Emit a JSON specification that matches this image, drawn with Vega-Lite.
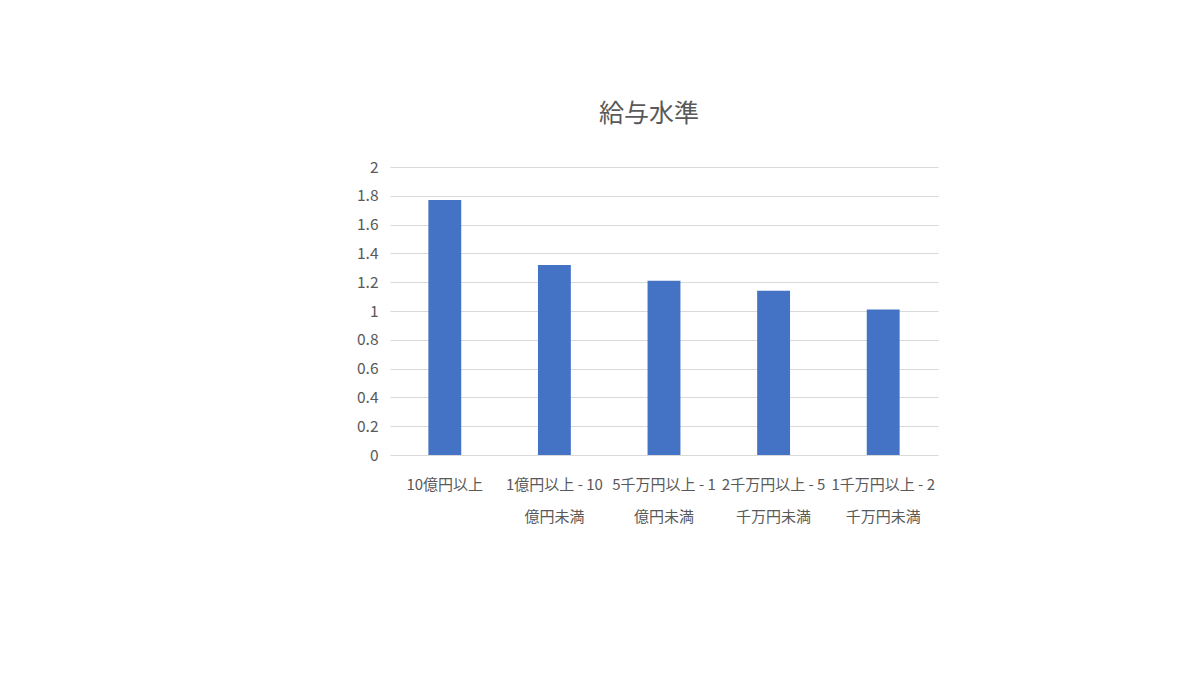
{
  "$schema": "https://vega.github.io/schema/vega-lite/v6.json",
  "autosize": "none",
  "width": 548,
  "height": 288,
  "padding": {"left": 390, "top": 167, "right": 262, "bottom": 220},
  "background": "white",
  "title": {
    "text": "給与水準",
    "fontSize": 25,
    "font": "Noto Sans CJK JP",
    "fontWeight": "normal",
    "color": "#595959",
    "offset": 33,
    "dx": -15
  },
  "data": {
    "values": [
      {"Category": "10億円以上", "Value": 1.77},
      {"Category": "1億円以上 - 10億円未満", "Value": 1.32},
      {"Category": "5千万円以上 - 1億円未満", "Value": 1.21},
      {"Category": "2千万円以上 - 5千万円未満", "Value": 1.14},
      {"Category": "1千万円以上 - 2千万円未満", "Value": 1.01}
    ]
  },
  "mark": {"type": "bar", "color": "#4472C4"},
  "encoding": {
    "x": {
      "field": "Category",
      "type": "nominal",
      "sort": null,
      "scale": {"paddingInner": 0.7, "paddingOuter": 0.35},
      "axis": {
        "title": null,
        "labelAngle": 0,
        "labelFontSize": 15,
        "labelLineHeight": 32,
        "labelPadding": 22,
        "labelLimit": 0,
        "ticks": false,
        "domain": false,
        "labelExpr": "split(replace(datum.label, regexp('( - \\\\d+)'), '$1|'), '|')"
      }
    },
    "y": {
      "field": "Value",
      "type": "quantitative",
      "scale": {"domain": [0, 2], "nice": false},
      "axis": {
        "title": null,
        "values": [0, 0.2, 0.4, 0.6, 0.8, 1, 1.2, 1.4, 1.6, 1.8, 2],
        "format": ".1~f",
        "labelFontSize": 15.5,
        "labelPadding": 12,
        "ticks": false,
        "domain": false,
        "gridColor": "#d9d9d9",
        "gridWidth": 1.2
      }
    }
  },
  "config": {
    "font": "Noto Sans CJK JP",
    "view": {"stroke": null},
    "axis": {"labelColor": "#595959", "labelFont": "Noto Sans CJK JP"}
  }
}
